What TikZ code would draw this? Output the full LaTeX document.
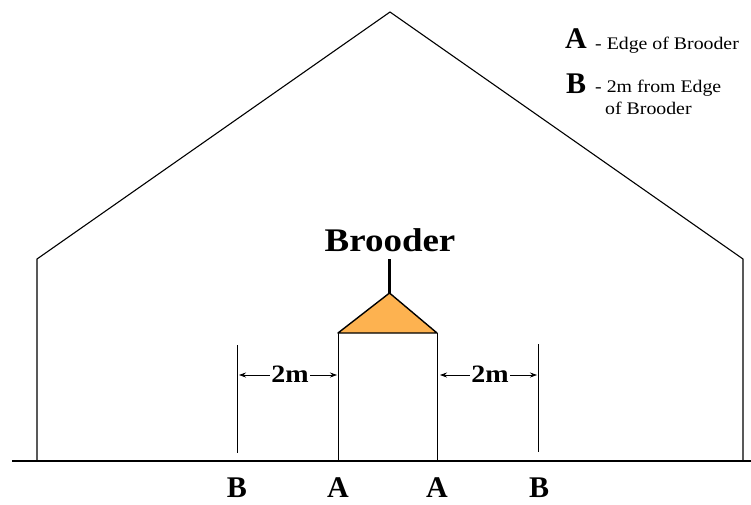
\documentclass[tikz,border=0pt]{standalone}
\usepackage{xcolor}
\usepackage{fontspec}
\usetikzlibrary{arrows.meta}
\setmainfont{Liberation Serif}
\newfontfamily\widefont[FakeStretch=1.12]{Liberation Serif}
\definecolor{hood}{RGB}{253,178,80}
\begin{document}
\begin{tikzpicture}[
        x=1pt, y=-1pt,
        wall/.style={draw, line width=1.1pt},
        mark line/.style={draw, line width=0.9pt},
        arr/.style={{Stealth[length=7pt,width=5pt]}-{Stealth[length=7pt,width=5pt]}, line width=0.7pt},
        letter/.style={font=\fontsize{30}{30}\selectfont\bfseries, inner sep=0pt, anchor=base},
        dist/.style={font=\widefont\fontsize{25}{25}\selectfont\bfseries, inner sep=1pt, fill=white, anchor=base},
        note/.style={font=\widefont\fontsize{17.7}{22}\selectfont, inner sep=0pt, align=left, anchor=base west}
    ]
        \useasboundingbox (0,0) rectangle (751,504);
        % house outline
        \coordinate (gl) at (12,461);
        \coordinate (gr) at (751,461);
        \coordinate (wl) at (37,461);
        \coordinate (el) at (37,259);
        \coordinate (apex) at (390,12);
        \coordinate (er) at (743,259);
        \coordinate (wr) at (743,461);
        \draw[wall] (wl)--(el)--(apex)--(er)--(wr);
        \draw[line width=1.8pt] (gl)--(gr);
        % brooder
        \coordinate (top) at (389.5,293);
        \coordinate (hl) at (338,333);
        \coordinate (hr) at (437,333);
        \coordinate (bl) at (338,461);
        \coordinate (br) at (437,461);
        \coordinate (hang) at (389.5,259);
        \draw[mark line] (hl)--(bl);
        \draw[mark line] (hr)--(br);
        \filldraw[fill=hood, draw=black, line width=1.4pt, line join=round] (top)--(hl)--(hr)--cycle;
        \draw[line width=3pt] (hang)--(top);
        \node[font=\widefont\fontsize{33}{33}\selectfont\bfseries, inner sep=0pt, anchor=base] (brooder) at (390,251) {Brooder};
        % 2m marks
        \coordinate (ml1) at (237,345);
        \coordinate (ml2) at (237,453);
        \coordinate (mr1) at (538,344);
        \coordinate (mr2) at (538,452);
        \draw[mark line] (ml1)--(ml2);
        \draw[mark line] (mr1)--(mr2);
        \coordinate (al) at (239,375);
        \coordinate (bal) at (337,375);
        \coordinate (bar) at (440,375);
        \coordinate (ar) at (537,375);
        \draw[arr] (al)--(bal);
        \draw[arr] (bar)--(ar);
        \node[dist] (dl) at (290,382) {2m};
        \node[dist] (dr) at (490,382) {2m};
        % letters under the ground
        \node[letter] (b1) at (237,497.5) {B};
        \node[letter] (a1) at (338,497.5) {A};
        \node[letter] (a2) at (437,497.5) {A};
        \node[letter] (b2) at (539,497.5) {B};
        % key
        \node[letter] (ka) at (576,48) {A};
        \node[letter] (kb) at (576,93) {B};
        \node[note] (ta) at (595,49) {- Edge of Brooder};
        \node[note] (tb) at (595,114) {- 2m from Edge\\\hspace*{10pt}of Brooder};
    \end{tikzpicture}
\end{document}
